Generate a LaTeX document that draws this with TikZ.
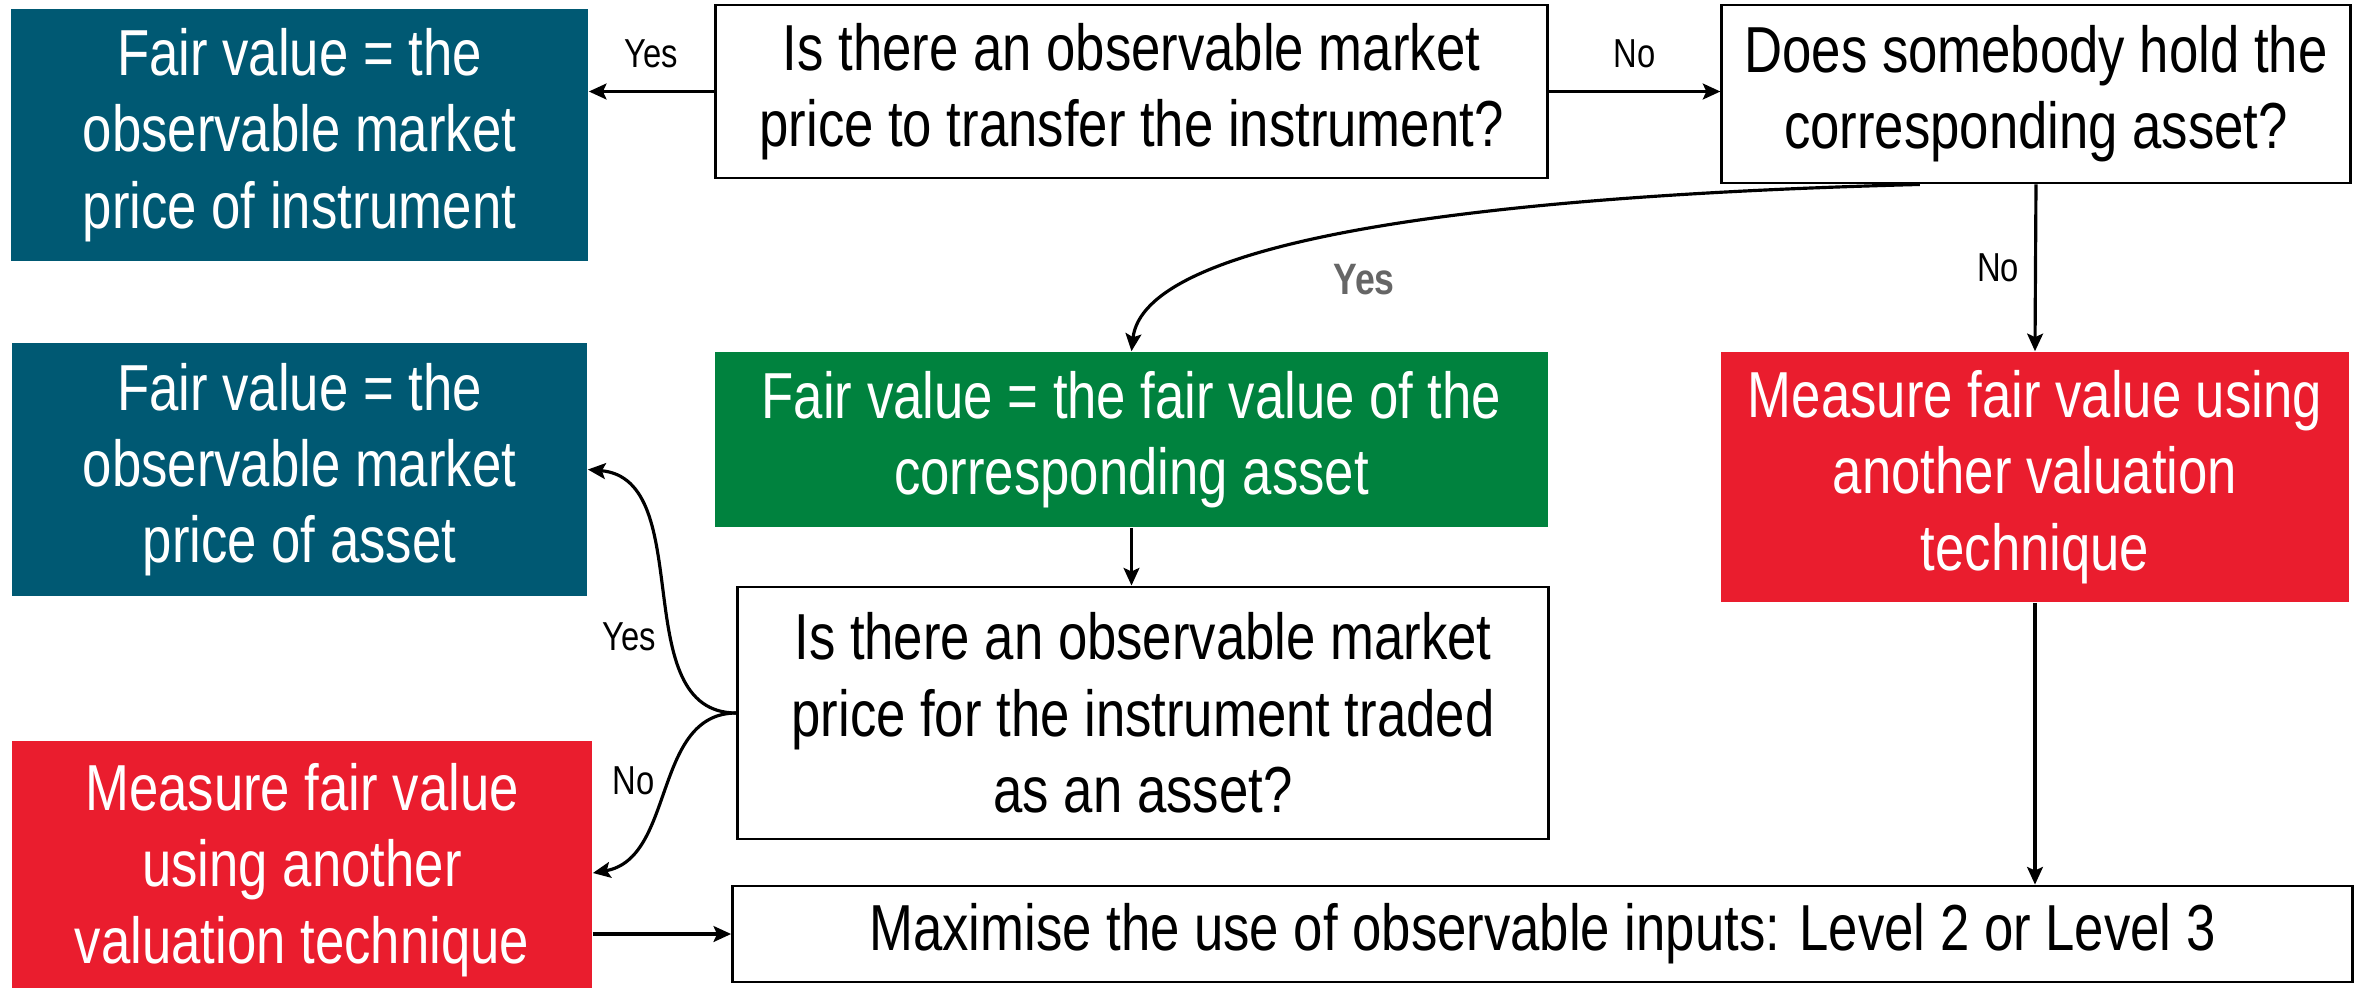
\documentclass[tikz,border=0pt]{standalone}
\usepackage{fontspec}
\setmainfont{Liberation Sans}[FakeStretch=0.81]
\usetikzlibrary{positioning}
\usetikzlibrary{calc}
\usetikzlibrary{arrows.meta}
\definecolor{fvteal}{RGB}{0,89,115}
\definecolor{fvgreen}{RGB}{0,130,62}
\definecolor{fvred}{RGB}{234,29,46}
\definecolor{lblgrey}{RGB}{102,102,102}

\begin{document}
\begin{tikzpicture}[x=0.01cm,y=-0.01cm,
    qbox/.style={draw=black,line width=0.8pt,align=center,inner sep=2pt,font=\fontsize{18.5}{21.7}\selectfont},
    cbox/.style={fill=#1,text=white,align=center,inner sep=2pt,font=\fontsize{18.5}{21.7}\selectfont},
    arr/.style={-{Stealth[length=5pt,width=4.5pt,inset=1pt]},line width=0.9pt},
    lbl/.style={font=\fontsize{11.5}{13}\selectfont,inner sep=0pt},
    greylbl/.style={font=\fontsize{12.5}{14}\selectfont\bfseries,text=lblgrey,inner sep=0pt}]
    \useasboundingbox (0,0) rectangle (2362,987);
    \node[cbox=fvteal,minimum width=5.77cm,minimum height=2.52cm] (fvinstr) at (299.5,135) {Fair value = the\\observable market\\price of instrument};
    \node[qbox,minimum width=8.31cm,minimum height=1.73cm] (q1) at (1131.5,91.5) {Is there an observable market\\price to transfer the instrument?};
    \node[qbox,minimum width=6.28cm,minimum height=1.78cm] (q2) at (2036,94) {Does somebody hold the\\corresponding asset?};
    \node[cbox=fvgreen,minimum width=8.33cm,minimum height=1.75cm] (fvasset) at (1131.5,439.5) {Fair value = the fair value of the\\corresponding asset};
    \node[cbox=fvred,minimum width=6.28cm,minimum height=2.5cm] (measureR) at (2035,477) {Measure fair value using\\another valuation\\technique};
    \node[cbox=fvteal,minimum width=5.75cm,minimum height=2.53cm] (fvobs) at (299.5,469.5) {Fair value = the\\observable market\\price of asset};
    \node[qbox,minimum width=8.1cm,minimum height=2.52cm] (q3) at (1143,713) {Is there an observable market\\price for the instrument traded\\as an asset?};
    \node[cbox=fvred,minimum width=5.8cm,minimum height=2.58cm] (measureL) at (302,870) {Measure fair value\\using another\\valuation technique};
    \node[qbox,minimum width=16.19cm,minimum height=0.96cm] (final) at (1542.5,934) {Maximise the use of observable inputs: Level 2 or Level 3};

    \draw[arr] (q1.west) -- (q1.west -| fvinstr.east) node[lbl,midway,above=0.22cm] {Yes};
    \draw[arr] (q1.east) -- (q1.east -| q2.west) node[lbl,midway,above=0.22cm] {No};
    \draw[arr] ([xshift=-1.16cm]q2.south) .. controls +(-470,12) and +(12,-107) .. (fvasset.north) node[greylbl,midway,below=0.3cm,xshift=0.1cm] {Yes};
    \draw[arr] (q2.south) -- (measureR.north) node[lbl,midway,left=0.15cm] {No};
    \draw[arr] (fvasset.south) -- (fvasset.south |- q3.north);
    \draw[arr] (q3.west) to[out=180,in=-5] node[lbl,pos=0.38,left=0.12cm] {Yes} (fvobs.east);
    \draw[arr] (q3.west) to[out=180,in=10] node[lbl,pos=0.47,left=0.11cm] {No} ([yshift=-0.03cm]measureL.east);
    \draw[arr] (final.west -| measureL.east) -- (final.west);
    \draw[arr] (measureR.south) -- (measureR.south |- final.north);
\end{tikzpicture}
\end{document}
